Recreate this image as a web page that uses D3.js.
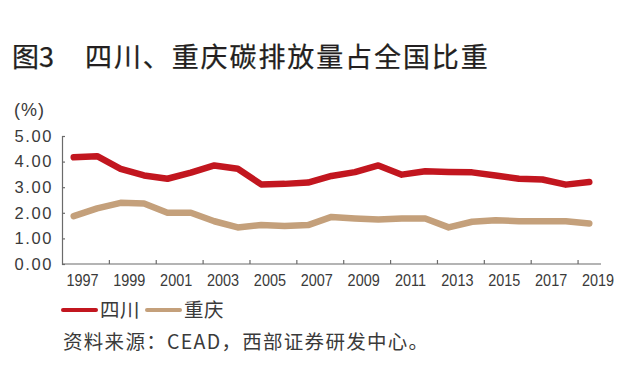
<!DOCTYPE html>
<html>
<head>
<meta charset="utf-8">
<script src="https://cdn.jsdelivr.net/npm/d3@7"></script>
<style>
  body { margin: 0; background: #fff; }
  svg { display: block; }
</style>
</head>
<body>
<div id="paper"></div>
<script>
// data

const years = [1997, 1998, 1999, 2000, 2001, 2002, 2003, 2004, 2005, 2006, 2007, 2008,
               2009, 2010, 2011, 2012, 2013, 2014, 2015, 2016, 2017, 2018, 2019]
const sichuan = [4.17, 4.21, 3.72, 3.46, 3.33, 3.57, 3.85, 3.72, 3.11, 3.13, 3.18, 3.44,
                 3.59, 3.85, 3.49, 3.62, 3.59, 3.58, 3.46, 3.33, 3.30, 3.10, 3.20]
const chongqing = [1.87, 2.17, 2.39, 2.36, 2.00, 2.00, 1.67, 1.43, 1.52, 1.48, 1.52, 1.84,
                   1.78, 1.74, 1.78, 1.78, 1.43, 1.65, 1.71, 1.67, 1.67, 1.67, 1.58]
const yTicks = [0, 1, 2, 3, 4, 5]
const labelYears = [1997, 1999, 2001, 2003, 2005, 2007, 2009, 2011, 2013, 2015, 2017, 2019]

const series = [
    {name: '四川', values: sichuan, color: '#c2161f'},
    {name: '重庆', values: chongqing, color: '#c4a07b'}
]

const width = 632, height = 366
const cjk = '"Noto Sans CJK SC", "Noto Sans", sans-serif'
const num = '"Liberation Sans", Arial, sans-serif'

const svg = d3.select('#paper')
    .append('svg')
    .attr('id', 'canvas')
    .attr('width', width)
    .attr('height', height)

// scales: one slot per year, points sit in the middle of each slot

const x = d3.scaleLinear().domain([0, years.length]).range([62, 601])
const y = d3.scaleLinear().domain([0, 5]).range([264, 136])
const px = i => x(i + 0.5)

// title

svg.append('text')
    .attr('x', 12)
    .attr('y', 67)
    .attr('font-family', cjk)
    .attr('font-weight', 400)
    .attr('font-size', '27px')
    .style('fill', '#231f20')
    .style('stroke', '#231f20')
    .style('stroke-width', 0.25)
    .text('图3')

svg.append('text')
    .attr('x', 85)
    .attr('y', 67)
    .attr('font-family', cjk)
    .attr('font-weight', 400)
    .attr('font-size', '27px')
    .attr('letter-spacing', '1.9px')
    .style('fill', '#231f20')
    .style('stroke', '#231f20')
    .style('stroke-width', 0.25)
    .text('四川、重庆碳排放量占全国比重')

// unit

svg.append('text')
    .attr('x', 14)
    .attr('y', 116)
    .attr('font-family', num)
    .attr('font-size', '18px')
    .attr('letter-spacing', '1px')
    .style('fill', '#3a3a3a')
    .text('(%)')

// y axis

const yAxis = svg.append('g')
    .attr('transform', 'translate(62,0)')
    .call(d3.axisLeft(y).tickValues(yTicks).tickSize(-3).tickPadding(9).tickFormat(d3.format('.2f')))

yAxis.selectAll('text')
    .attr('font-family', num)
    .attr('font-size', '16.5px')
    .attr('letter-spacing', '1.6px')
    .style('fill', '#3a3a3a')

// x axis, ticks every two slots pointing up

const xAxis = svg.append('g')
    .attr('transform', 'translate(0,264)')
    .call(d3.axisBottom(x).tickValues(d3.range(2, years.length, 2)).tickSize(-4).tickFormat(''))

Array(yAxis, xAxis).forEach(g => {
    g.select('.domain').attr('stroke', '#6b6b6b').attr('stroke-width', 1.2)
    g.selectAll('.tick line').attr('stroke', '#6b6b6b').attr('stroke-width', 1.2)
})
xAxis.select('.domain').attr('d', 'M62,0H601')

svg.append('g')
    .selectAll('text')
    .data(labelYears)
    .join('text')
    .attr('transform', d => `translate(${x(years.indexOf(d) + 1) - 3},286) scale(0.85,1)`)
    .attr('text-anchor', 'middle')
    .attr('font-family', num)
    .attr('font-size', '17px')
    .style('fill', '#3a3a3a')
    .text(d => d)

// lines

const line = d3.line()
    .x((d, i) => px(i))
    .y(d => y(d))

svg.append('g')
    .selectAll('path')
    .data(series.slice().reverse())
    .join('path')
    .attr('d', d => line(d.values))
    .style('fill', 'none')
    .style('stroke', d => d.color)
    .style('stroke-width', 6.5)
    .style('stroke-linejoin', 'round')
    .style('stroke-linecap', 'round')

// legend

const legend = svg.append('g')
    .selectAll('g')
    .data(series)
    .join('g')
    .attr('transform', (d, i) => `translate(${63 + i * 84},0)`)

legend.append('line')
    .attr('x1', 0)
    .attr('x2', 33)
    .attr('y1', 310)
    .attr('y2', 310)
    .style('stroke', d => d.color)
    .style('stroke-width', 4)
    .style('stroke-linecap', 'round')

legend.append('text')
    .attr('x', 37)
    .attr('y', 317)
    .attr('font-family', cjk)
    .attr('font-size', '19.5px')
    .attr('letter-spacing', '0.5px')
    .style('fill', '#3a3a3a')
    .text(d => d.name)

// source

svg.append('text')
    .attr('x', 63)
    .attr('y', 349)
    .attr('font-family', cjk)
    .attr('font-size', '19.5px')
    .attr('letter-spacing', '1.3px')
    .style('fill', '#3a3a3a')
    .text('资料来源：CEAD，西部证券研发中心。')
</script>
</body>
</html>
